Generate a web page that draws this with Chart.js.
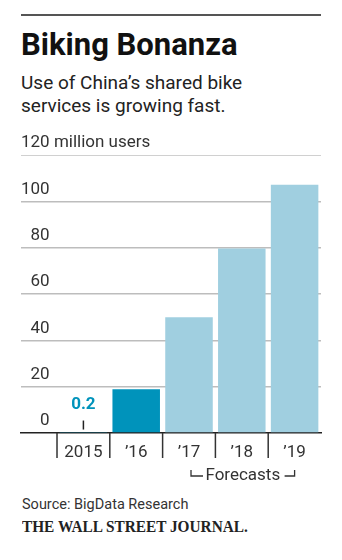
<!DOCTYPE html>
<html>
<head>
<meta charset="utf-8">
<script src="https://cdn.jsdelivr.net/npm/chart.js@4"></script>
<style>
html,body{margin:0;padding:0;background:#fff;}
body{width:342px;height:560px;position:relative;overflow:hidden;font-family:Roboto,"Noto Sans",sans-serif;color:#222;}
.rule{position:absolute;left:21px;top:14px;width:300px;height:2px;background:#555;}
.title{position:absolute;left:21px;top:29px;margin:0;font-size:31px;font-weight:700;line-height:31px;color:#111;white-space:nowrap;}
.sub{position:absolute;left:21px;top:71px;margin:0;font-size:19px;line-height:23px;color:#222;}
.src{position:absolute;left:22px;top:497.8px;font-size:14.5px;line-height:14.5px;color:#333;white-space:nowrap;}
.wsj{position:absolute;left:22px;top:518.6px;font-family:"Liberation Serif","DejaVu Serif",serif;font-weight:700;font-size:16px;line-height:16px;color:#222;white-space:nowrap;transform:scaleX(0.957);transform-origin:left center;}
#wrap{position:absolute;left:0;top:125px;width:342px;height:365px;}
</style>
</head>
<body>
<div class="rule"></div>
<div class="title">Biking Bonanza</div>
<div class="sub">Use of China’s shared bike<br>services is growing fast.</div>
<div id="wrap"><canvas id="c" width="342" height="365"></canvas></div>
<div class="src">Source: BigData Research</div>
<div class="wsj">THE WALL STREET JOURNAL.</div>
<script>
const categories = ["2015", "’16", "’17", "’18", "’19"];
const users = [0.2, 18.9, 50, 79.6, 107.2];
const isForecast = [false, false, true, true, true];
const yTicks = [0, 20, 40, 60, 80, 100, 120];
const yUnit = "million users";
const forecastLabel = "Forecasts";
const annotatedIndex = 0;

const DARK = '#0093bb';
const LIGHT = '#a0cfe0';
const AXIS_FONT = {family: 'Roboto', size: 17};

const extras = {
  id: 'extras',
  afterDraw(chart) {
    const ctx = chart.ctx;
    const xs = chart.scales.x, ys = chart.scales.y;
    const bottom = chart.chartArea.bottom;
    ctx.save();
    ctx.strokeStyle = '#333';
    ctx.lineWidth = 1.5;
    for (let i = 0; i < categories.length; i++) {
      const x = xs.getPixelForValue(i - 0.5);
      ctx.beginPath();
      ctx.moveTo(x, bottom);
      ctx.lineTo(x, bottom + 25);
      ctx.stroke();
    }
    const ax = xs.getPixelForValue(annotatedIndex);
    const ay = ys.getPixelForValue(users[annotatedIndex]);
    ctx.strokeStyle = '#222';
    ctx.lineWidth = 1.5;
    ctx.beginPath();
    ctx.moveTo(ax, ay - 12);
    ctx.lineTo(ax, ay - 3);
    ctx.stroke();
    ctx.fillStyle = DARK;
    ctx.font = 'bold 17px Roboto';
    ctx.textAlign = 'center';
    ctx.textBaseline = 'middle';
    ctx.fillText(String(users[annotatedIndex]), ax, ay - 28);
    ctx.font = '17px Roboto';
    let widest = 0;
    yTicks.forEach(v => { widest = Math.max(widest, ctx.measureText(String(v)).width); });
    ctx.fillStyle = '#333';
    ctx.textAlign = 'left';
    ctx.fillText(' ' + yUnit, ys.right + widest, ys.getPixelForValue(yTicks[yTicks.length - 1]) - 12);
    const fIdx = isForecast.map((f, i) => f ? i : -1).filter(i => i >= 0);
    const x1 = xs.getPixelForValue(fIdx[0]) + 2;
    const x2 = xs.getPixelForValue(fIdx[fIdx.length - 1]);
    const ty = bottom + 43;
    ctx.fillStyle = '#333';
    ctx.textAlign = 'center';
    ctx.fillText(forecastLabel, (x1 + x2) / 2, ty);
    ctx.strokeStyle = '#333';
    ctx.lineWidth = 1.3;
    ctx.beginPath();
    ctx.moveTo(x1, ty - 6); ctx.lineTo(x1, ty); ctx.lineTo(x1 + 12, ty);
    ctx.moveTo(x2, ty - 6); ctx.lineTo(x2, ty); ctx.lineTo(x2 - 10, ty);
    ctx.stroke();
    ctx.restore();
  }
};

new Chart(document.getElementById('c'), {
  type: 'bar',
  data: {
    datasets: [{
      data: users.map((v, i) => ({x: i, y: v})),
      backgroundColor: users.map((v, i) => isForecast[i] ? LIGHT : DARK),
      borderWidth: 0,
      barPercentage: 0.9,
      categoryPercentage: 1.0
    }]
  },
  options: {
    responsive: false,
    animation: false,
    devicePixelRatio: 1,
    layout: {padding: {top: 30, left: 21, right: 21, bottom: 0}},
    plugins: {legend: {display: false}, tooltip: {enabled: false}},
    scales: {
      x: {
        type: 'linear',
        min: -1.182,
        max: 4.5,
        offset: false,
        z: 1,
        grid: {display: false, offset: false},
        border: {display: true, color: '#222', width: 1.5},
        afterBuildTicks: s => { s.ticks = categories.map((c, i) => ({value: i})); },
        afterFit: s => { s.height = 57; },
        ticks: {
          callback: v => categories[v],
          autoSkip: false, maxRotation: 0,
          font: AXIS_FONT, color: '#333', padding: 2
        }
      },
      y: {
        min: 0, max: 120,
        position: 'left',
        afterBuildTicks: s => { s.ticks = yTicks.map(v => ({value: v})); },
        afterFit: s => { s.width = 0; },
        border: {display: false},
        grid: {
          drawTicks: false,
          color: c => c.tick.value === 0 ? 'rgba(0,0,0,0)' : (c.tick.value === 120 ? '#d0d0d0' : '#bdbdbd'),
          lineWidth: c => c.tick.value === 120 ? 1 : 1.5
        },
        ticks: {
          mirror: true, crossAlign: 'far', padding: 0, labelOffset: -12,
          font: AXIS_FONT, color: '#333',
          callback: v => String(v)
        }
      }
    }
  },
  plugins: [extras]
});
</script>
</body>
</html>
